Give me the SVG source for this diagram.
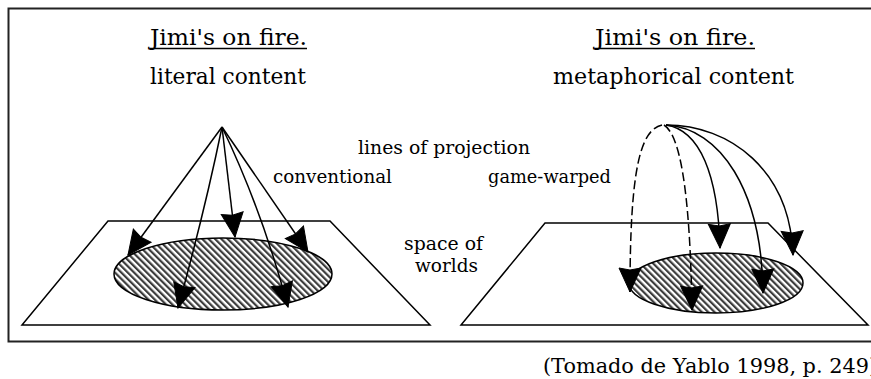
<svg xmlns="http://www.w3.org/2000/svg" width="871" height="379" viewBox="0 0 871 379">
  <style>
    .title { font-family: "DejaVu Serif", "Liberation Serif", serif; font-size: 22px; fill: #000; }
    .label { font-family: "DejaVu Serif", "Liberation Serif", serif; font-size: 18.5px; fill: #000; }
    .caption { font-family: "DejaVu Serif", "Liberation Serif", serif; font-size: 20px; fill: #000; }
    .plane { fill: none; stroke: #000; stroke-width: 1.5; }
    .region { fill: url(#hatch); stroke: #000; stroke-width: 1.5; }
    .ray { fill: none; stroke: #000; stroke-width: 1.5; marker-end: url(#head); }
    .dashed { stroke-dasharray: 9 4; }
    .rule { stroke: #000; stroke-width: 1.5; }
  </style>
  <defs>
    <pattern id="hatch" patternUnits="userSpaceOnUse" width="4.5" height="4.5" patternTransform="rotate(-45)">
      <rect width="4.5" height="4.5" fill="#fff"/>
      <rect x="0" y="0" width="2.2" height="4.5" fill="#3c3c3c"/>
    </pattern>
    <marker id="head" markerUnits="userSpaceOnUse" markerWidth="28" markerHeight="26" viewBox="-27 -13 28 26" refX="0" refY="0" orient="auto">
      <path d="M0,0 L-24,-11 L-22,0 L-24,11 Z" fill="#000" stroke="#000" stroke-width="1"/>
    </marker>
  </defs>

  <rect width="871" height="379" fill="#fff"/>

  <!-- outer frame (open on the right) -->
  <g id="frame">
    <path d="M875,8.5 L8.5,8.5 L8.5,341.5 L875,341.5" fill="none" stroke="#222" stroke-width="2"/>
  </g>

  <!-- left: literal content -->
  <g id="literal-plane">
    <polygon class="plane" points="108,221 330,221 430,325 22,325" fill="#fff"/>
    <ellipse class="region" cx="223" cy="274" rx="109" ry="36"/>
  </g>

  <!-- right: metaphorical content -->
  <g id="metaphorical-plane">
    <polygon class="plane" points="545,223 768,223 868,325 461,325" fill="#fff"/>
    <ellipse class="region" cx="716" cy="283" rx="87" ry="30"/>
  </g>

  <!-- projection lines -->
  <g id="connectors">
    <!-- conventional projection -->
    <path class="ray" d="M222,127 L128,255"/>
    <path class="ray" d="M222,127 Q205,210 178,308"/>
    <path class="ray" d="M222,127 L235,237"/>
    <path class="ray" d="M222,127 Q262,210 288,307"/>
    <path class="ray" d="M222,127 L308,252"/>
    <!-- game-warped projection -->
    <path class="ray dashed" d="M662,125 C640,130 630,170 630,292"/>
    <path class="ray dashed" d="M664,125 C680,135 690,190 692,310"/>
    <path class="ray" d="M666,125 C700,130 718,175 720,248"/>
    <path class="ray" d="M666,125 C720,128 762,190 763,293"/>
    <path class="ray" d="M666,125 C730,125 790,170 793,255"/>
  </g>

  <g id="literal-title">
    <text class="title" x="150" y="45" textLength="157" lengthAdjust="spacingAndGlyphs">Jimi's on fire.</text>
    <line class="rule" x1="150" y1="48.5" x2="307" y2="48.5"/>
    <text class="title" x="150" y="84" textLength="156" lengthAdjust="spacingAndGlyphs">literal content</text>
  </g>

  <g id="metaphorical-title">
    <text class="title" x="595" y="45" textLength="160" lengthAdjust="spacingAndGlyphs">Jimi's on fire.</text>
    <line class="rule" x1="595" y1="48.5" x2="755" y2="48.5"/>
    <text class="title" x="553" y="84" textLength="241" lengthAdjust="spacingAndGlyphs">metaphorical content</text>
  </g>

  <g id="labels">
    <text class="label" x="358" y="154" textLength="172" lengthAdjust="spacingAndGlyphs">lines of projection</text>
    <text class="label" x="273" y="183" textLength="119" lengthAdjust="spacingAndGlyphs">conventional</text>
    <text class="label" x="488" y="183" textLength="123" lengthAdjust="spacingAndGlyphs">game-warped</text>
    <text class="label" x="404" y="250" textLength="79" lengthAdjust="spacingAndGlyphs">space of</text>
    <text class="label" x="415" y="272" textLength="63" lengthAdjust="spacingAndGlyphs">worlds</text>
  </g>

  <g id="caption">
    <text class="caption" x="543" y="373" textLength="334" lengthAdjust="spacingAndGlyphs">(Tomado de Yablo 1998, p. 249)</text>
  </g>
</svg>
